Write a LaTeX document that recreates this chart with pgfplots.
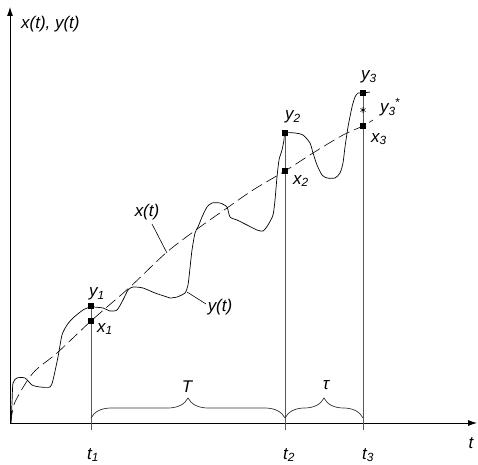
\documentclass[border=0pt]{standalone}
\usepackage{pgfplots}
\pgfplotsset{compat=1.18}
\usepackage{fontspec}
\setmainfont{Liberation Sans}
\usetikzlibrary{arrows.meta,decorations.pathreplacing}
\tikzset{lab/.style={font=\fontsize{17}{19}\selectfont\itshape, inner sep=0pt}}
\begin{document}
\begin{tikzpicture}
\begin{axis}[
  width=478bp, height=465bp, scale only axis,
  xmin=0, xmax=478, ymin=0, ymax=465, y dir=reverse,
  hide axis, clip=false,
]
% bounding box
\addplot[draw=none] coordinates {(0,0) (478,465)};
% axes
\addplot[black, line width=0.8pt, -{Latex[length=9bp,width=6bp]}] coordinates {(10,423) (10,7)};
\addplot[black, line width=0.8pt, -{Latex[length=9bp,width=6bp]}] coordinates {(10,423) (477,423)};
% verticals at t1, t2, t3
\addplot[black!65, line width=0.8pt] coordinates {(91,306) (91,430)};
\addplot[black!65, line width=0.8pt] coordinates {(285,133) (285,430)};
\addplot[black!65, line width=0.8pt] coordinates {(363,93) (363,430)};
% x(t) dashed
\addplot[black, line width=0.6pt, smooth, dash pattern=on 12bp off 5bp] coordinates {
(11,422) (15,402) (33,373) (57,353) (91,321) (130,287) (167,252) (200,227) (227,208) (253,190) (285,171) (313,153) (343,135) (363,126) (373,120)};
% y(t)
\addplot[black, line width=0.7pt, smooth, tension=0.4] coordinates {
(11,423) (12,403) (13,383) (17,378) (25,378) (32,385) (40,387) (50,387) (53,380) (58,357) (62,335) (67,325) (73,318) (83,310) (91,307) (103,308) (110,311) (117,310) (123,300) (128,290) (133,287) (143,288) (155,293) (167,297) (170,298) (177,297) (185,293) (188,285) (190,268) (192,250) (195,233) (198,227) (202,217) (207,207) (212,203) (220,203) (227,207) (230,217) (237,220) (247,225) (257,230) (263,231) (268,225) (273,215) (275,200) (277,177) (279,160) (282,150) (284,140) (285,133) (295,133) (303,135) (310,143) (313,153) (317,165) (322,175) (327,178) (335,178) (340,173) (343,163) (345,147) (348,127) (352,107) (355,97) (358,93) (363,93) (370,92)};
% points
\addplot[only marks, mark=square*, mark size=2.5, black] coordinates {(91,306) (91,321) (285,133) (285,171) (363,93) (363,126)};
\addplot[only marks, mark=asterisk, mark size=3, black, mark options={line width=0.6pt}] coordinates {(363,110)};
% leader lines
\addplot[black, line width=0.6pt] coordinates {(187,292) (206,304)};
\addplot[black, line width=0.6pt] coordinates {(152,224) (167,253)};
% braces
\addplot[black!80, line width=0.7pt, decorate, decoration={brace, amplitude=20bp}] coordinates {(91,418) (285,418)};
\addplot[black!80, line width=0.7pt, decorate, decoration={brace, amplitude=20bp}] coordinates {(285,418) (363,418)};
% labels
\node[lab, anchor=west] at (axis cs:21,24) {x(t), y(t)};
\node[lab] at (axis cs:471,443) {t};
\node[lab] at (axis cs:93,455) {t\textsubscript{1}};
\node[lab] at (axis cs:289,455) {t\textsubscript{2}};
\node[lab] at (axis cs:368,455) {t\textsubscript{3}};
\node[lab] at (axis cs:187,387) {T};
\node[lab] at (axis cs:326,385) {τ};
\node[lab] at (axis cs:97,294) {y\textsubscript{1}};
\node[lab] at (axis cs:105,329) {x\textsubscript{1}};
\node[lab] at (axis cs:293,117) {y\textsubscript{2}};
\node[lab] at (axis cs:301,181) {x\textsubscript{2}};
\node[lab] at (axis cs:369,77) {y\textsubscript{3}};
\node[lab] at (axis cs:390,107) {y\textsubscript{3}\kern-0.05em\textsuperscript{*}};
\node[lab] at (axis cs:379,139) {x\textsubscript{3}};
\node[lab] at (axis cs:220,307) {y(t)};
\node[lab] at (axis cs:147,212) {x(t)};
\end{axis}
\end{tikzpicture}
\end{document}
